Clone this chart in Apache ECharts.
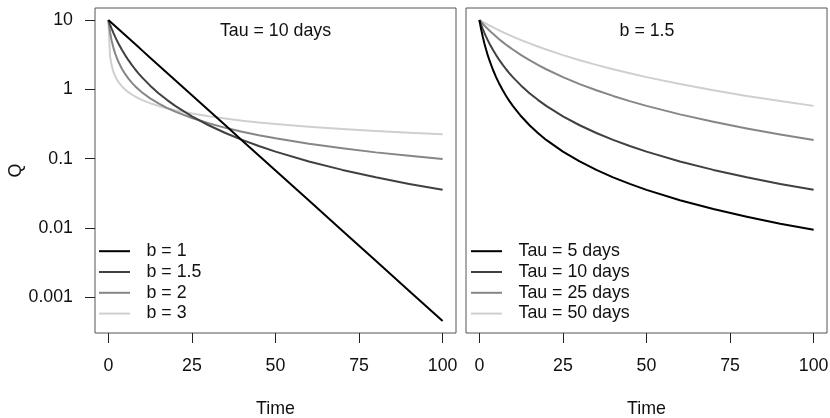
<!DOCTYPE html>
<html>
<head>
<meta charset="utf-8">
<script src="https://cdn.jsdelivr.net/npm/echarts@6/dist/echarts.min.js"></script>
<style>
  html, body { margin: 0; padding: 0; background: #ffffff; }
  #chart { width: 830px; height: 418px; }
</style>
</head>
<body>
<div id="chart"></div>
<script>
// Recession curves Q(t) for different shape (b) and time-scale (Tau) parameters
const time = [0, 0.5, 1, 1.5, 2, 2.5, 3, 4, 5, 6, 7, 8, 9, 10, 12.5, 15, 17.5, 20, 25, 30, 35, 40, 45, 50, 60, 70, 80, 90, 100];

// Left panel: Tau = 10 days
const qB1  = [10, 9.512, 9.048, 8.607, 8.187, 7.788, 7.408, 6.703, 6.065, 5.488, 4.966, 4.493, 4.066, 3.679, 2.865, 2.231, 1.738, 1.353, 0.821, 0.498, 0.302, 0.183, 0.1111, 0.0674, 0.0248, 0.00912, 0.00335, 0.00123, 0.000454];
const qB15 = [10, 8.588, 7.456, 6.533, 5.772, 5.137, 4.600, 3.752, 3.119, 2.633, 2.253, 1.949, 1.703, 1.501, 1.129, 0.880, 0.705, 0.577, 0.408, 0.303, 0.234, 0.186, 0.152, 0.126, 0.0909, 0.0687, 0.0537, 0.0431, 0.0354];
const qB2  = [10, 6.667, 5, 4, 3.333, 2.857, 2.5, 2, 1.667, 1.429, 1.25, 1.111, 1.0, 0.909, 0.741, 0.625, 0.541, 0.476, 0.385, 0.323, 0.278, 0.244, 0.217, 0.196, 0.164, 0.141, 0.123, 0.110, 0.099];
const qB3  = [10, 3.015, 2.182, 1.796, 1.562, 1.400, 1.280, 1.111, 0.995, 0.909, 0.842, 0.788, 0.743, 0.705, 0.631, 0.576, 0.534, 0.499, 0.447, 0.408, 0.378, 0.353, 0.333, 0.316, 0.289, 0.267, 0.250, 0.236, 0.224];

// Right panel: b = 1.5
const qTau5  = [10, 7.456, 5.772, 4.600, 3.752, 3.119, 2.633, 1.949, 1.501, 1.191, 0.968, 0.803, 0.676, 0.577, 0.408, 0.303, 0.234, 0.186, 0.126, 0.0909, 0.0687, 0.0537, 0.0431, 0.0354, 0.0251, 0.0187, 0.0145, 0.0115, 0.0094];
const qTau10 = [10, 8.588, 7.456, 6.533, 5.772, 5.137, 4.600, 3.752, 3.119, 2.633, 2.253, 1.949, 1.703, 1.501, 1.129, 0.880, 0.705, 0.577, 0.408, 0.303, 0.234, 0.186, 0.152, 0.126, 0.0909, 0.0687, 0.0537, 0.0431, 0.0354];
const qTau25 = [10, 9.396, 8.846, 8.342, 7.880, 7.456, 7.065, 6.369, 5.772, 5.255, 4.804, 4.409, 4.061, 3.752, 3.119, 2.633, 2.253, 1.949, 1.501, 1.191, 0.968, 0.803, 0.676, 0.577, 0.435, 0.340, 0.272, 0.223, 0.186];
const qTau50 = [10, 9.691, 9.396, 9.115, 8.846, 8.588, 8.342, 7.880, 7.456, 7.065, 6.704, 6.369, 6.060, 5.772, 5.137, 4.600, 4.144, 3.752, 3.119, 2.633, 2.253, 1.949, 1.703, 1.501, 1.191, 0.968, 0.803, 0.676, 0.577];

const leftNames  = ['b = 1', 'b = 1.5', 'b = 2', 'b = 3'];
const rightNames = ['Tau = 5 days', 'Tau = 10 days', 'Tau = 25 days', 'Tau = 50 days'];
const panelTitles = ['Tau = 10 days', 'b = 1.5'];

const xTicks = [0, 25, 50, 75, 100];
const yTicks = [0.001, 0.01, 0.1, 1, 10];
const yTickLabels = ['0.001', '0.01', '0.1', '1', '10'];

const greys = ['#000000', '#404040', '#868686', '#cfcfcf'];
const FONT = 'Liberation Sans, Arial, sans-serif';
const FS = 17.8;

// 4% padding around the data range on both axes
const xMin = -4, xMax = 104;
const yMin = 0.000304, yMax = 14.92;

function pairs(vals) { return time.map((t, i) => [t, vals[i]]); }

function makeSeries(names, sets, idx) {
  return names.map((name, i) => ({
    name: name,
    type: 'line',
    xAxisIndex: idx,
    yAxisIndex: idx,
    data: pairs(sets[i]),
    showSymbol: false,
    symbol: 'none',
    smooth: false,
    color: greys[i],
    lineStyle: { width: 2, color: greys[i], join: 'round' },
    z: 10 - i,
    silent: true
  }));
}

function xAxisFor(idx) {
  return {
    type: 'value', gridIndex: idx, min: xMin, max: xMax,
    axisLine: { show: false, onZero: false },
    splitLine: { show: false },
    axisTick: { show: true, inside: false, customValues: xTicks, length: 10, lineStyle: { color: '#222', width: 1 } },
    axisLabel: { customValues: xTicks, margin: 24, fontSize: FS, fontFamily: FONT, color: '#111' },
    name: 'Time', nameLocation: 'middle', nameGap: 67.5,
    nameTextStyle: { fontSize: FS, fontFamily: FONT, color: '#111' }
  };
}

function yAxisFor(idx, withLabels) {
  return {
    type: 'log', logBase: 10, gridIndex: idx, min: yMin, max: yMax,
    axisLine: { show: false, onZero: false },
    splitLine: { show: false },
    axisTick: { show: withLabels, inside: false, customValues: yTicks, length: 10, lineStyle: { color: '#222', width: 1 } },
    axisLabel: {
      show: withLabels, customValues: yTicks, margin: 22, fontSize: FS, fontFamily: FONT, color: '#111',
      formatter: v => {
        const k = yTicks.findIndex(t => Math.abs(Math.log10(t) - Math.log10(v)) < 1e-6);
        return k >= 0 ? yTickLabels[k] : '';
      }
    },
    name: withLabels ? 'Q' : '', nameLocation: 'middle', nameGap: 62, nameRotate: 90,
    nameTextStyle: { fontSize: FS, fontFamily: FONT, color: '#111' }
  };
}

function legendFor(names, left) {
  return {
    data: names, orient: 'vertical', left: left, top: 240.8,
    itemWidth: 31, itemHeight: 14, itemGap: 0,
    icon: 'path://M0,6 L31,6 L31,8 L0,8 Z',
    selectedMode: false, padding: 0,
    textStyle: { fontSize: FS, fontFamily: FONT, color: '#111', lineHeight: 20.8, padding: [0, 0, 0, 11.5] }
  };
}

function gridFor(left) {
  return {
    left: left, top: 8, width: 361, height: 325,
    containLabel: false, outerBoundsMode: 'none',
    show: true, borderColor: '#555', borderWidth: 1, backgroundColor: 'transparent'
  };
}

const chart = echarts.init(document.getElementById('chart'), null, { renderer: 'canvas' });
chart.setOption({
  animation: false,
  backgroundColor: '#ffffff',
  title: [
    { text: panelTitles[0], left: 275.5, top: 22, textAlign: 'center', padding: 0,
      textStyle: { fontSize: FS, fontWeight: 'normal', fontFamily: FONT, color: '#111' } },
    { text: panelTitles[1], left: 647, top: 22, textAlign: 'center', padding: 0,
      textStyle: { fontSize: FS, fontWeight: 'normal', fontFamily: FONT, color: '#111' } }
  ],
  grid: [gridFor(95), gridFor(466)],
  legend: [legendFor(leftNames, 99), legendFor(rightNames, 471)],
  xAxis: [xAxisFor(0), xAxisFor(1)],
  yAxis: [yAxisFor(0, true), yAxisFor(1, false)],
  series: makeSeries(leftNames, [qB1, qB15, qB2, qB3], 0)
    .concat(makeSeries(rightNames, [qTau5, qTau10, qTau25, qTau50], 1))
});
</script>
</body>
</html>
